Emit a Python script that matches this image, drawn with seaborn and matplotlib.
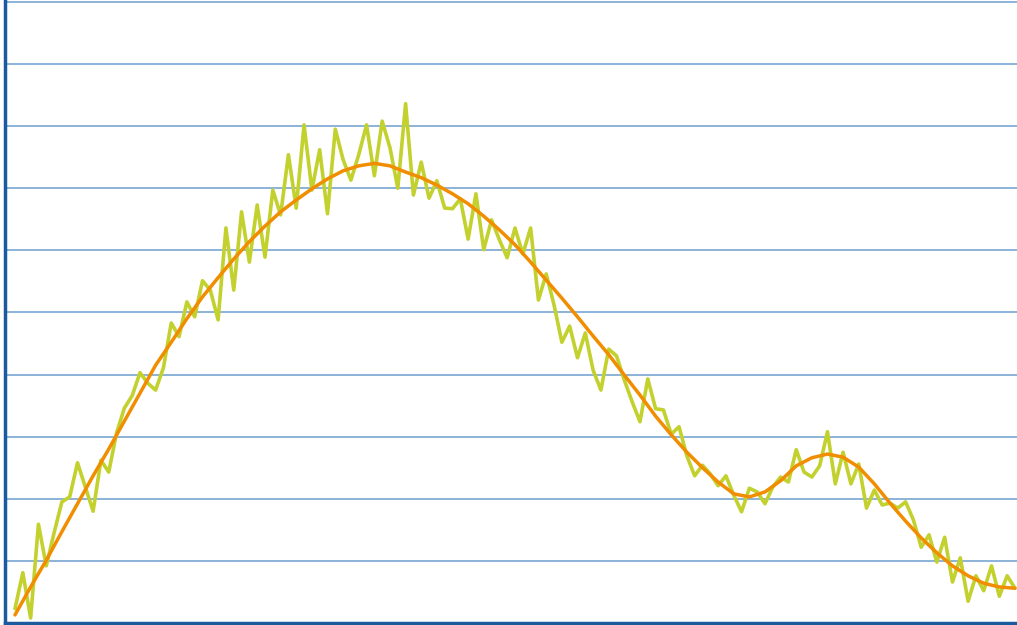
import numpy as np
import pandas as pd
import matplotlib
matplotlib.use("Agg")
import matplotlib.pyplot as plt
import seaborn as sns

# Noisy measured series (one value per step)
raw_values = [
    0.23, 0.81, 0.08, 1.59, 0.92, 1.45, 1.95, 2.03, 2.58, 2.19,
    1.80, 2.62, 2.43, 3.06, 3.46, 3.66, 4.03, 3.86, 3.75, 4.11,
    4.83, 4.61, 5.17, 4.93, 5.51, 5.36, 4.88, 6.36, 5.36, 6.62,
    5.81, 6.73, 5.89, 6.97, 6.57, 7.54, 6.68, 8.02, 6.97, 7.62,
    6.59, 7.95, 7.46, 7.13, 7.54, 8.02, 7.20, 8.08, 7.65, 7.00,
    8.36, 6.89, 7.42, 6.84, 7.12, 6.68, 6.67, 6.83, 6.18, 6.91,
    6.01, 6.49, 6.17, 5.88, 6.36, 5.94, 6.36, 5.20, 5.62, 5.12,
    4.52, 4.78, 4.27, 4.67, 4.07, 3.75, 4.41, 4.30, 3.91, 3.56,
    3.24, 3.93, 3.45, 3.43, 3.04, 3.16, 2.69, 2.37, 2.54, 2.40,
    2.21, 2.37, 2.06, 1.79, 2.17, 2.11, 1.92, 2.19, 2.35, 2.27,
    2.79, 2.43, 2.35, 2.53, 3.08, 2.24, 2.75, 2.24, 2.56, 1.85,
    2.14, 1.90, 1.93, 1.85, 1.95, 1.66, 1.22, 1.42, 0.98, 1.38,
    0.66, 1.05, 0.35, 0.76, 0.52, 0.92, 0.43, 0.76, 0.56,
]
raw_steps = list(range(len(raw_values)))

# Smoothed trend, read every 2nd step
smooth_steps = list(range(0, 129, 2))
smooth_values = [
    0.13, 0.58, 1.01, 1.47, 1.92, 2.37, 2.80, 3.25, 3.70, 4.15,
    4.52, 4.90, 5.25, 5.56, 5.86, 6.14, 6.39, 6.62, 6.81, 6.99,
    7.15, 7.28, 7.36, 7.40, 7.36, 7.26, 7.17, 7.05, 6.91, 6.75,
    6.55, 6.33, 6.09, 5.81, 5.52, 5.23, 4.93, 4.62, 4.32, 3.99,
    3.67, 3.33, 3.03, 2.75, 2.50, 2.27, 2.08, 2.03, 2.11, 2.29,
    2.53, 2.66, 2.72, 2.67, 2.51, 2.24, 1.93, 1.64, 1.37, 1.13,
    0.92, 0.76, 0.64, 0.58, 0.56,
]

raw = pd.DataFrame({"step": raw_steps, "value": raw_values})
smooth = pd.DataFrame({"step": smooth_steps, "value": smooth_values})

sns.set_style("white")
fig = plt.figure(figsize=(10.17, 6.25), dpi=100)
ax = fig.add_axes([5 / 1017, 2 / 625, 1012 / 1017, 623 / 625])

sns.lineplot(data=raw, x="step", y="value", color="#c3d12e", linewidth=2.6, ax=ax)
sns.lineplot(data=smooth, x="step", y="value", color="#f18d00", linewidth=2.5, ax=ax)

ax.set_xlim(-1.28, 128.26)
ax.set_ylim(0, 10.03)
ax.set_yticks(np.arange(1, 11))
ax.yaxis.grid(True, color="#79a5d2", linewidth=1.2)
ax.xaxis.grid(False)
ax.set_axisbelow(True)
ax.tick_params(left=False, bottom=False, labelleft=False, labelbottom=False)
ax.set_xlabel("")
ax.set_ylabel("")

for side in ["top", "right"]:
    ax.spines[side].set_visible(False)
ax.spines["left"].set_color("#1c5a9e")
ax.spines["left"].set_linewidth(2.5)
ax.spines["bottom"].set_color("#1c5a9e")
ax.spines["bottom"].set_linewidth(2.5)

plt.savefig("out.png", dpi=100)
